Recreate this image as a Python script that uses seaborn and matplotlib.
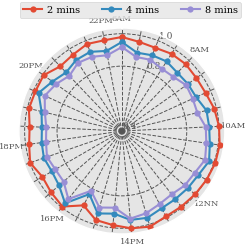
import numpy as np
import pandas as pd
import matplotlib
matplotlib.use('Agg')
import matplotlib.pyplot as plt
import seaborn as sns

# half-hour slots from 6AM to 22PM, labels every 2 hours
time_labels = ['6AM', '8AM', '10AM', '12NN', '14PM', '16PM', '18PM', '20PM', '22PM']
n_slots = 33

two_min = [0.980, 0.960, 0.953, 0.966, 0.970, 0.964, 0.967, 0.986, 1.000, 1.009, 1.009,
           1.003, 0.997, 0.993, 0.993, 1.015, 1.003, 0.983, 0.972, 0.916, 0.993, 0.978,
           0.966, 0.999, 0.978, 0.970, 0.990, 0.987, 0.993, 0.951, 0.959, 0.978, 0.970]
four_min = [0.949, 0.892, 0.903, 0.910, 0.896, 0.900, 0.903, 0.937, 0.939, 0.948, 0.969,
            0.944, 0.938, 0.934, 0.936, 0.958, 0.951, 0.912, 0.930, 0.838, 0.967, 0.913,
            0.899, 0.909, 0.900, 0.894, 0.910, 0.965, 0.926, 0.899, 0.921, 0.926, 0.903]
eight_min = [0.918, 0.865, 0.873, 0.856, 0.861, 0.887, 0.880, 0.879, 0.918, 0.926, 0.943,
             0.918, 0.913, 0.897, 0.907, 0.929, 0.943, 0.875, 0.892, 0.815, 0.934, 0.876,
             0.874, 0.889, 0.873, 0.867, 0.889, 0.923, 0.899, 0.870, 0.900, 0.893, 0.876]
series_names = ['2 mins', '4 mins', '8 mins']

plt.style.use('ggplot')
plt.rcParams['font.family'] = 'DejaVu Serif'

theta = np.linspace(0, 2 * np.pi, n_slots, endpoint=False)
frames = []
for name, vals in zip(series_names, [two_min, four_min, eight_min]):
    # close the loop
    frames.append(pd.DataFrame({'theta': np.append(theta, 2 * np.pi),
                                'value': vals + vals[:1],
                                'series': name}))
df = pd.concat(frames, ignore_index=True)

fig = plt.figure(figsize=(2.46, 2.5), dpi=100)
ax = fig.add_axes([0.077, 0.064, 0.837, 0.824], projection='polar')
ax.set_theta_zero_location('N')
ax.set_theta_direction(-1)

sns.lineplot(data=df, x='theta', y='value', hue='series', marker='o',
             markersize=4.5, markeredgewidth=0, linewidth=1.5, sort=False,
             estimator=None, ax=ax)

ax.set_ylim(0.4, 1.035)
ax.set_rgrids([0.4, 0.8, 1.0], labels=['0.4', '0.8', '1.0'], fontsize=6.5, color='#555555')
tick_labels = [''] * n_slots
for k, lab in enumerate(time_labels):
    tick_labels[4 * k] = lab
ax.set_xticks(theta)
ax.set_xticklabels(tick_labels, fontsize=6, color='#555555')
ax.tick_params(axis='x', pad=-4)
ax.grid(True, color='#555555', linestyle='--', linewidth=0.7)
ax.set_xlabel('')
ax.set_ylabel('')

handles, labels = ax.get_legend_handles_labels()
ax.legend_.remove()
fig.legend(handles, labels, loc='upper center', bbox_to_anchor=(0.53, 1.01), ncol=3,
           fontsize=7, handlelength=2.0, columnspacing=2.2, handletextpad=0.5,
           borderpad=0.35)

fig.savefig('out.png', dpi=100)
